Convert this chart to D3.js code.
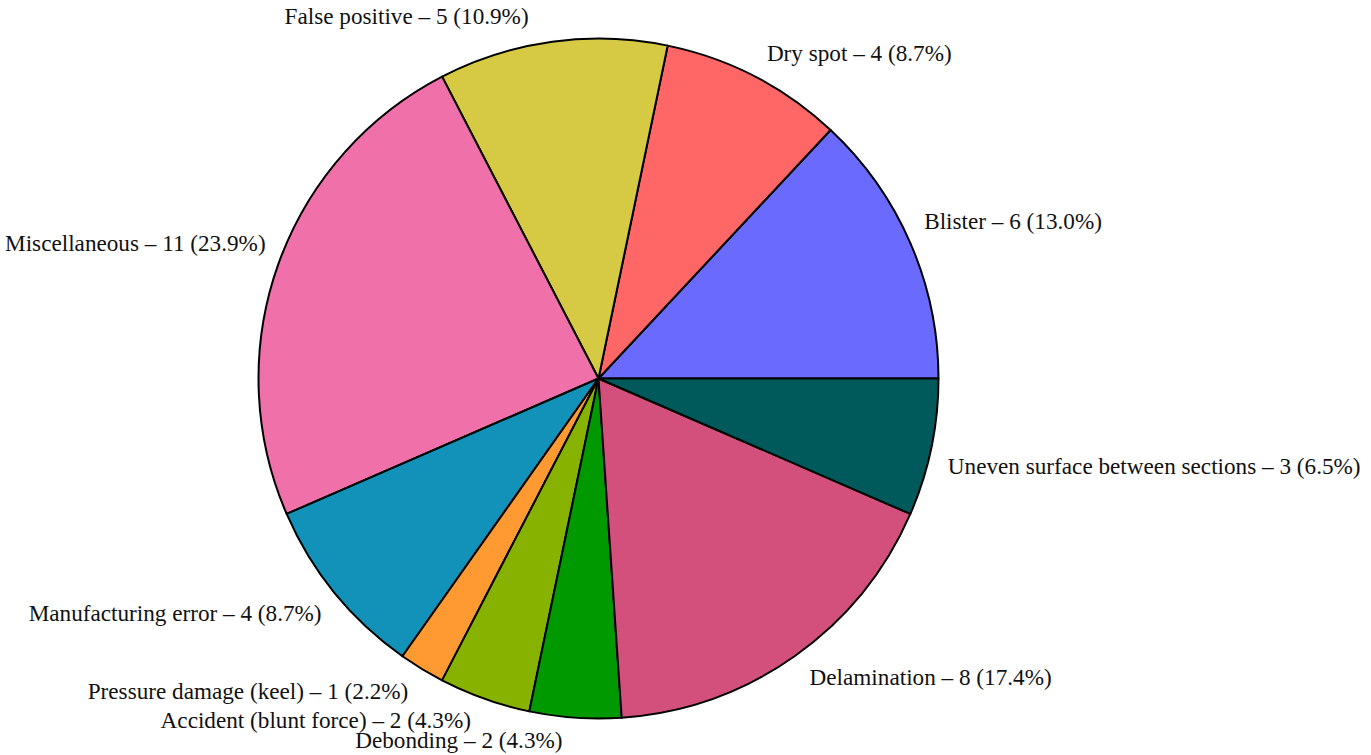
<!DOCTYPE html>
<html>
<head>
<meta charset="utf-8">
<script src="https://cdn.jsdelivr.net/npm/d3@7"></script>
<style>
  html, body { margin: 0; padding: 0; background: #ffffff; }
  svg { display: block; }
  text { font-family: "Liberation Serif", "DejaVu Serif", serif; font-size: 23.2px; fill: #111; }
</style>
</head>
<body>
<svg id="chart" width="1371" height="755"></svg>
<script>
// Defect categories and their counts
const categories = [
  "Blister",
  "Dry spot",
  "False positive",
  "Miscellaneous",
  "Manufacturing error",
  "Pressure damage (keel)",
  "Accident (blunt force)",
  "Debonding",
  "Delamination",
  "Uneven surface between sections"
];
const counts = [6, 4, 5, 11, 4, 1, 2, 2, 8, 3];
const colors = [
  "#6a6aff", "#ff6666", "#d6ca45", "#f071aa", "#1291b9",
  "#ff9a33", "#87b300", "#009900", "#d3507d", "#005a5b"
];

// Hand-tuned label shifts (px) so the text clears the rim near the axes
const labelNudge = {
  "Blister": [-10, -11],
  "Miscellaneous": [12, -13],
  "Uneven surface between sections": [-9, 13],
  "Manufacturing error": [7, 4],
  "False positive": [-20, 0],
  "Debonding": [-11, -3],
  "Accident (blunt force)": [-5, -3]
};

const svg = d3.select("#chart");
const cx = 598.5, cy = 378.5, radius = 340, labelRadius = 366;
const total = d3.sum(counts);

const data = categories.map((c, i) => ({ name: c, value: counts[i], color: colors[i] }));

// Start at 3 o'clock and run counter-clockwise
const pie = d3.pie()
  .sort(null)
  .value(d => d.value)
  .startAngle(Math.PI / 2)
  .endAngle(Math.PI / 2 - 2 * Math.PI);

const arc = d3.arc().innerRadius(0).outerRadius(radius);
const arcs = pie(data);

const g = svg.append("g").attr("transform", `translate(${cx},${cy})`);

g.selectAll("path.slice")
  .data(arcs)
  .join("path")
  .attr("class", "slice")
  .attr("d", arc)
  .attr("fill", d => d.data.color)
  .attr("stroke", "#000")
  .attr("stroke-width", 2)
  .attr("stroke-linejoin", "round");

const fmt = d3.format(".1f");

g.selectAll("text.label")
  .data(arcs)
  .join("text")
  .attr("class", "label")
  .each(function (d) {
    const a = (d.startAngle + d.endAngle) / 2;
    const nudge = labelNudge[d.data.name] || [0, 0];
    const x = Math.sin(a) * labelRadius + nudge[0];
    const y = -Math.cos(a) * labelRadius + nudge[1];
    d3.select(this)
      .attr("x", x)
      .attr("y", y)
      .attr("dy", "0.33em")
      .attr("text-anchor", Math.sin(a) >= 0 ? "start" : "end")
      .text(`${d.data.name} \u2013 ${d.data.value} (${fmt(d.data.value / total * 100)}%)`);
  });
</script>
</body>
</html>
